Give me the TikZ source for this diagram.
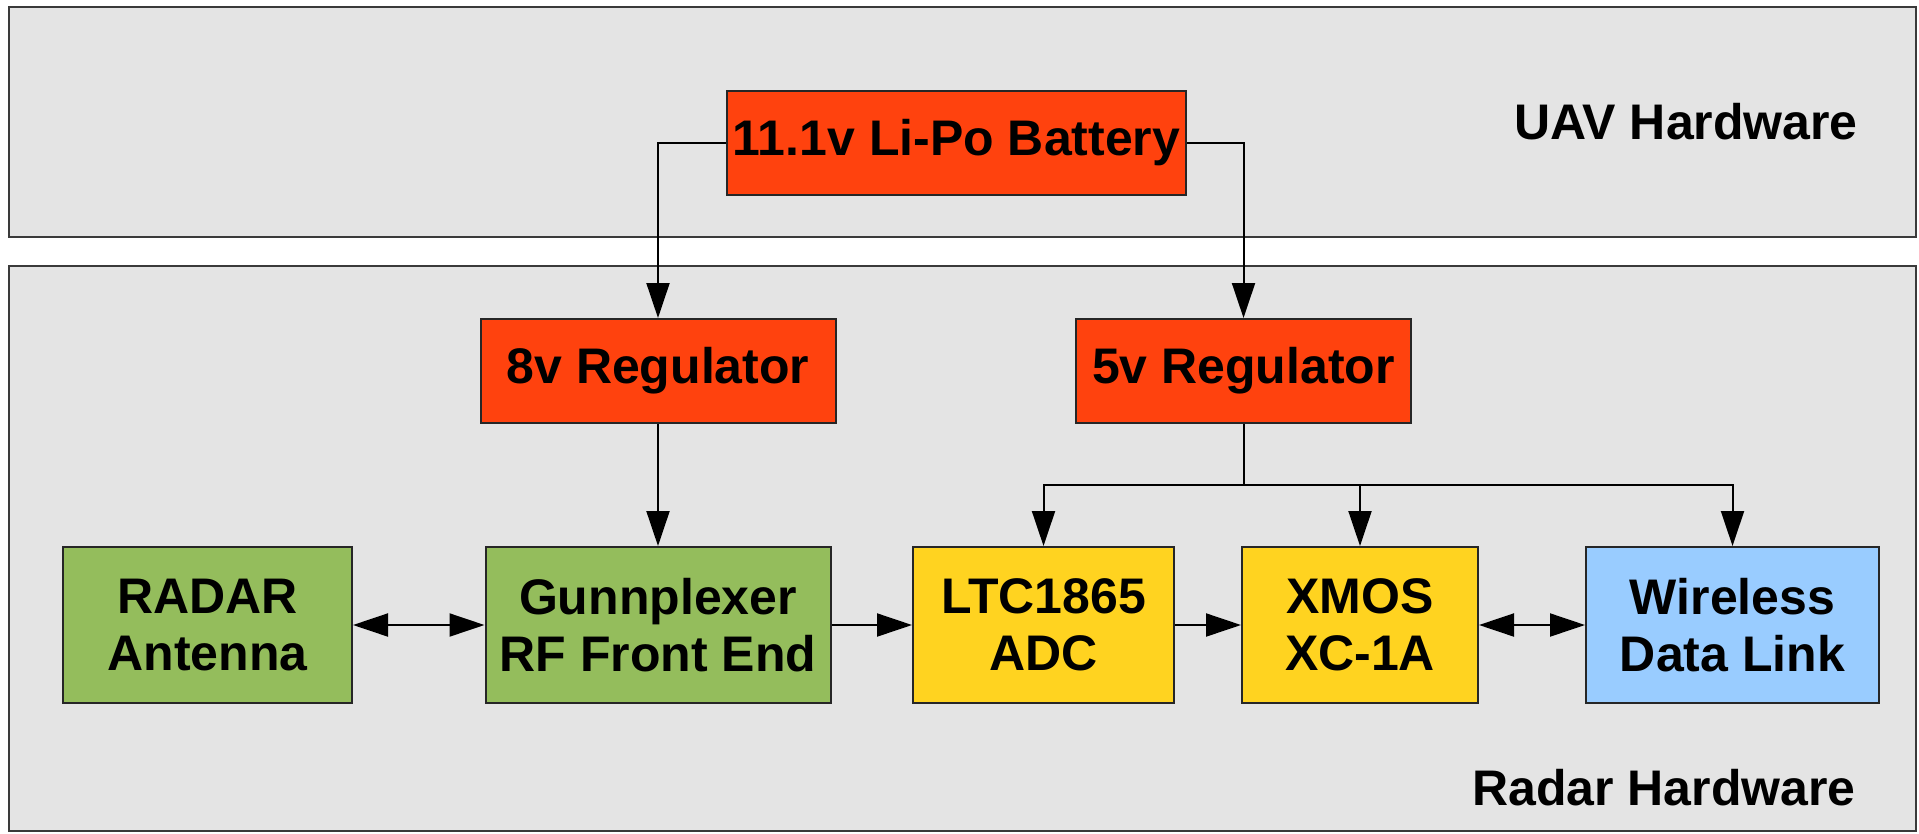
\documentclass[tikz,border=0pt]{standalone}
\usepackage{fontspec}
\setmainfont{Liberation Sans}
\usetikzlibrary{arrows.meta}
\definecolor{panelfill}{HTML}{E4E4E4}
\definecolor{panelline}{HTML}{3A3A3A}
\definecolor{redbox}{HTML}{FF420E}
\definecolor{greenbox}{HTML}{94BD5C}
\definecolor{yellowbox}{HTML}{FFD320}
\definecolor{bluebox}{HTML}{99CCFF}
\tikzset{
  panel/.style={draw=panelline, fill=panelfill, line width=2.5pt},
  blockbox/.style={draw=black!85, line width=2pt, inner sep=0pt, align=center,
    font=\fontsize{50}{57}\selectfont\bfseries},
  redblk/.style={blockbox, fill=redbox},
  greenblk/.style={blockbox, fill=greenbox},
  yellowblk/.style={blockbox, fill=yellowbox},
  blueblk/.style={blockbox, fill=bluebox},
  paneltitle/.style={font=\fontsize{50}{57}\selectfont\bfseries, inner sep=0pt},
  conn/.style={line width=2pt, draw=black, -{Triangle[length=35pt,width=23pt]}},
  biconn/.style={line width=2pt, draw=black, {Triangle[length=35pt,width=23pt]}-{Triangle[length=35pt,width=23pt]}},
  wire/.style={line width=2pt, draw=black}
}
\begin{document}
\begin{tikzpicture}[x=1pt,y=-1pt]
\useasboundingbox (0,0) rectangle (1919,833);
% panels
\draw[panel] (9,7) rectangle (1916,237);
\draw[panel] (9,266) rectangle (1916,831);
\node[paneltitle] (uavlbl) at (1686,122) {UAV Hardware};
\node[paneltitle] (radarlbl) at (1664,788) {Radar Hardware};
% blocks
\node[redblk, minimum width=459pt, minimum height=104pt] (bat) at (956.5,143) {11.1v Li-Po Battery};
\node[redblk, minimum width=355pt, minimum height=104pt] (reg8) at (658,371) {8v Regulator};
\node[redblk, minimum width=335pt, minimum height=104pt] (reg5) at (1243.5,371) {5v Regulator};
\node[greenblk, minimum width=289pt, minimum height=156pt] (ant) at (207.5,625) {RADAR\\Antenna};
\node[greenblk, minimum width=345pt, minimum height=156pt] (gunn) at (658,625) {Gunnplexer\\RF Front End};
\node[yellowblk, minimum width=261pt, minimum height=156pt] (ltc) at (1043.5,625) {LTC1865\\ADC};
\node[yellowblk, minimum width=236pt, minimum height=156pt] (xmos) at (1360,625) {XMOS\\XC-1A};
\node[blueblk, minimum width=293pt, minimum height=156pt] (wl) at (1732.5,625) {Wireless\\Data Link};
% connectors
\draw[conn] (bat.west) -| (reg8.north);
\draw[conn] (bat.east) -| (reg5.north);
\draw[conn] (reg8.south) -- (gunn.north);
\coordinate (br) at (1243.5,485);
\draw[wire] (reg5.south) -- (br);
\draw[conn] (br) -| (ltc.north);
\draw[conn] (br) -| (xmos.north);
\draw[conn] (br) -| (wl.north);
\draw[biconn] (ant.east) -- (gunn.west);
\draw[conn] (gunn.east) -- (ltc.west);
\draw[conn] (ltc.east) -- (xmos.west);
\draw[biconn] (xmos.east) -- (wl.west);
\end{tikzpicture}
\end{document}
